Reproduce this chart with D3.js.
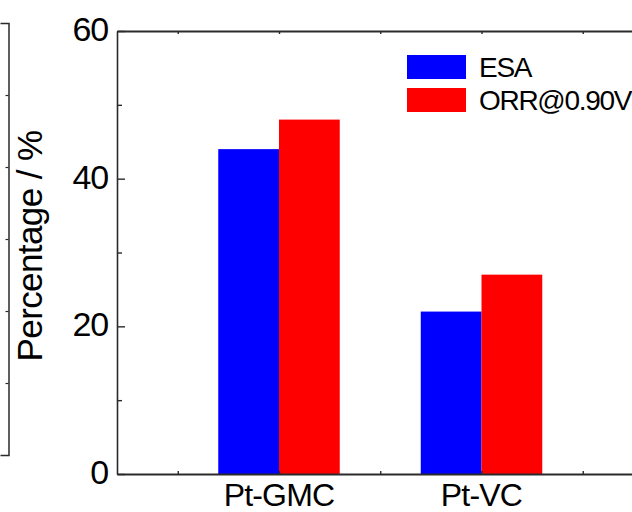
<!DOCTYPE html>
<html>
<head>
<meta charset="utf-8">
<script src="https://cdn.jsdelivr.net/npm/d3@7"></script>
<style>
  html, body { margin: 0; padding: 0; background: #fff; }
  svg { display: block; }
  text { font-family: "Liberation Sans", Arial, sans-serif; fill: #000; }
</style>
</head>
<body>
<svg id="chart" width="632" height="512"></svg>
<script>
// Catalyst samples and their retained percentages
const categories = ["Pt-GMC", "Pt-VC"];
const seriesNames = ["ESA", "ORR@0.90V"];
const esaValues = [44, 22];
const orrValues = [48, 27];
const yTicks = [0, 20, 40, 60];
const yMinorTicks = [10, 30, 50];
const xTicks = [0.5, 1, 1.5, 2, 2.5];
const seriesColors = ["#0000ff", "#ff0000"];

const svg = d3.select("#chart");
const axisColor = "#2a2a2a";

// Plot frame
const plotLeft = 117, plotRight = 643.5, plotTop = 31, plotBottom = 474;
const x = d3.scaleLinear().domain([0.2, 2.8]).range([plotLeft, plotRight]);
const y = d3.scaleLinear().domain([0, 60]).range([plotBottom, plotTop]);
const barW = x(1.3) - x(1);

// Right edge of the neighbouring panel
const side = d3.scaleLinear().domain([0, 6]).range([455, 23]);
const sideG = svg.append("g").attr("transform", "translate(8.5,0)");
sideG.call(d3.axisLeft(side).tickValues([1, 2, 3, 4, 5]).tickSizeInner(3).tickSizeOuter(8).tickFormat(""));
sideG.select(".domain").attr("stroke", axisColor).attr("stroke-width", 1.5);
sideG.selectAll(".tick line").attr("stroke", axisColor).attr("stroke-width", 1.2);

// Bars
const series = [esaValues, orrValues];
series.forEach((vals, si) => {
  svg.append("g").selectAll("rect")
    .data(vals)
    .join("rect")
    .attr("x", (d, i) => si === 0 ? x(i + 1) - barW : x(i + 1))
    .attr("width", barW)
    .attr("y", d => y(d))
    .attr("height", d => y(0) - y(d))
    .attr("fill", seriesColors[si]);
});

// Y axis (ticks pointing into the plot)
const yAxisG = svg.append("g").attr("transform", `translate(${plotLeft},0)`);
yAxisG.call(d3.axisLeft(y).tickValues(yTicks).tickSizeInner(-8).tickSizeOuter(0).tickPadding(9));
yAxisG.select(".domain").attr("stroke", axisColor).attr("stroke-width", 1.6);
yAxisG.selectAll(".tick line").attr("stroke", axisColor).attr("stroke-width", 1.4);
yAxisG.selectAll(".tick text").style("font-size", "34px").style("font-family", "'Liberation Sans', Arial, sans-serif")
  .attr("fill", "#000").attr("dy", "0.28em").style("letter-spacing", "-1.2px");

const yMinorG = svg.append("g").attr("transform", `translate(${plotLeft},0)`);
yMinorG.call(d3.axisLeft(y).tickValues(yMinorTicks).tickSizeInner(-5).tickSizeOuter(0).tickFormat(""));
yMinorG.select(".domain").remove();
yMinorG.selectAll(".tick line").attr("stroke", axisColor).attr("stroke-width", 1.4);

// Right axis
const yRightG = svg.append("g").attr("transform", `translate(${plotRight},0)`);
yRightG.call(d3.axisRight(y).tickValues(yTicks).tickSizeInner(-8).tickSizeOuter(0).tickFormat(""));
yRightG.select(".domain").attr("stroke", axisColor).attr("stroke-width", 1.6);

// Bottom axis
const xAxisG = svg.append("g").attr("transform", `translate(0,${plotBottom})`);
xAxisG.call(d3.axisBottom(x).tickValues(xTicks).tickSizeInner(-3).tickSizeOuter(0).tickFormat(""));
xAxisG.select(".domain").attr("stroke", axisColor).attr("stroke-width", 1.8);
xAxisG.selectAll(".tick line").attr("stroke", axisColor).attr("stroke-width", 1.4);

// Category labels
svg.append("g").selectAll("text")
  .data(categories)
  .join("text")
  .attr("x", (d, i) => x(i + 1))
  .attr("y", 506)
  .attr("text-anchor", "middle")
  .style("font-size", "32px")
  .style("letter-spacing", "-0.8px")
  .text(d => d);

// Top axis
const xTopG = svg.append("g").attr("transform", `translate(0,${plotTop})`);
xTopG.call(d3.axisTop(x).tickValues(xTicks).tickSizeInner(-3).tickSizeOuter(0).tickFormat(""));
xTopG.select(".domain").attr("stroke", axisColor).attr("stroke-width", 1.8);
xTopG.selectAll(".tick line").attr("stroke", axisColor).attr("stroke-width", 1.4);

// Y axis title
svg.append("text")
  .attr("transform", "translate(42,246) rotate(-90)")
  .attr("text-anchor", "middle")
  .style("font-size", "35px")
  .style("letter-spacing", "-0.6px")
  .text("Percentage / %");

// Legend
const legend = svg.append("g");
seriesNames.forEach((name, i) => {
  const gy = 55 + i * 33;
  legend.append("rect")
    .attr("x", 407).attr("y", gy)
    .attr("width", 59).attr("height", 24)
    .attr("fill", seriesColors[i]);
  legend.append("text")
    .attr("x", 479).attr("y", gy + 22)
    .style("font-size", "28px")
    .style("letter-spacing", "-1.3px")
    .text(name);
});
</script>
</body>
</html>
